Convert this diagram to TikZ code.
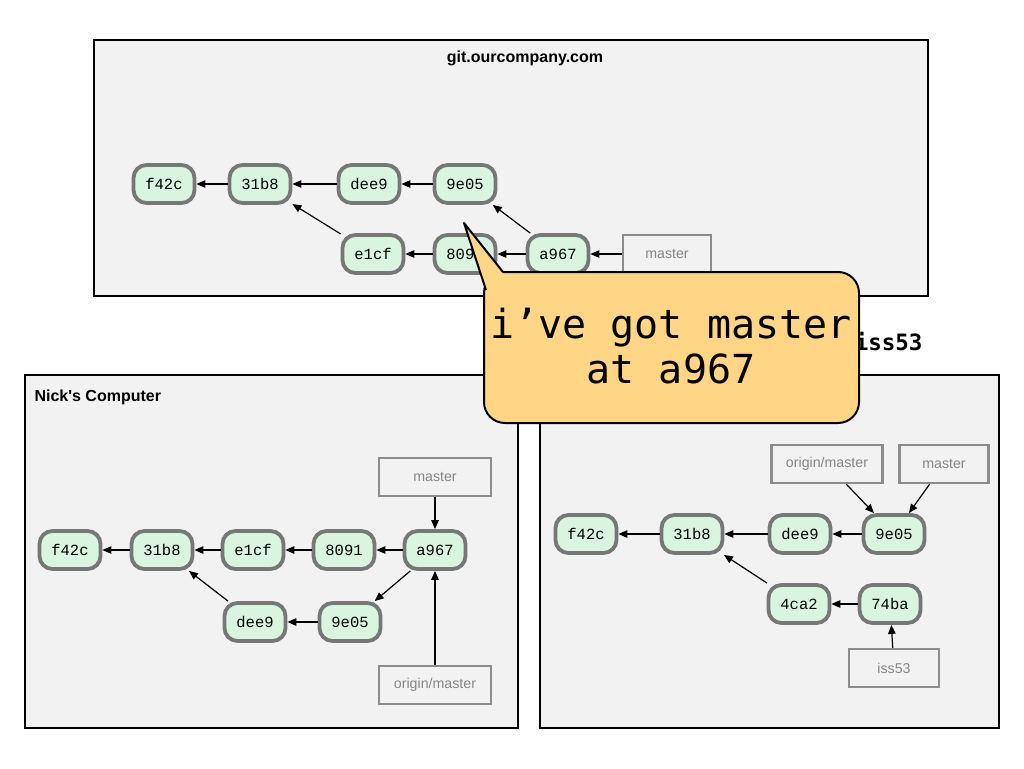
\documentclass[tikz,border=0pt]{standalone}
\usepackage{fontspec}
\setmainfont{Liberation Sans}
\newfontfamily\titlefont{Liberation Sans}
\newfontfamily\commitfont{Liberation Mono}
\newfontfamily\bubblefont{DejaVu Sans Mono}
\usetikzlibrary{arrows.meta}
\definecolor{bg}{HTML}{F2F2F2}
\definecolor{cfill}{HTML}{D9F5DF}
\definecolor{cborder}{HTML}{777777}
\definecolor{rborder}{HTML}{8C8C8C}
\definecolor{rtext}{HTML}{858585}
\definecolor{bubfill}{HTML}{FED685}
\tikzset{
  panel/.style={draw=black, line width=2.5pt, fill=bg},
  commit/.style={draw=cborder, line width=3.8pt, fill=cfill, rounded corners=13pt,
    minimum width=61pt, minimum height=38pt, inner sep=0pt,
    font=\commitfont\fontsize{15.5}{17}\selectfont},
  refbox/.style={draw=rborder, line width=2.5pt, fill=bg, minimum height=38pt, inner sep=0pt,
    text=rtext, font=\fontsize{14.2}{16}\selectfont},
  arr/.style={-{Triangle[length=9pt,width=7.5pt]}, line width=1.2pt, black},
  title/.style={font=\titlefont\bfseries\fontsize{16}{18}\selectfont},
}
\begin{document}
\begin{tikzpicture}[x=1pt,y=-1pt]
\useasboundingbox (0,0) rectangle (1024,768);
\fill[white] (0,0) rectangle (1024,768);

% panels
\draw[panel] (94,40) rectangle (928,296);
\draw[panel] (25,375) rectangle (518,728);
\draw[panel] (540,375) rectangle (999,728);

\node[title, anchor=base] (ttop) at (525,63) {git.ourcompany.com};
\node[title, anchor=base west] (tnick) at (31,401) {Nick's Computer};
\node[anchor=base east, font=\bubblefont\bfseries\fontsize{22.5}{24}\selectfont] (tiss) at (926,350) {iss53};

% top server
\node[commit] (a1) at (164,184) {f42c};
\node[commit] (a2) at (260,184) {31b8};
\node[commit] (a3) at (369,184) {dee9};
\node[commit] (a4) at (465,184) {9e05};
\node[commit] (a5) at (373,254) {e1cf};
\node[commit] (a6) at (465,254) {8091};
\node[commit] (a7) at (558,254) {a967};
\node[refbox, minimum width=88pt] (am) at (667,254) {master};
\draw[arr] (a2) -- (a1);
\draw[arr] (a3) -- (a2);
\draw[arr] (a4) -- (a3);
\draw[arr] (a5) -- (a2);
\draw[arr] (a6) -- (a5);
\draw[arr] (a7) -- (a6);
\draw[arr] (a7) -- (a4);
\draw[arr] (am) -- (a7);

% Nick's computer
\node[commit] (b1) at (70,550) {f42c};
\node[commit] (b2) at (162,550) {31b8};
\node[commit] (b3) at (253,550) {e1cf};
\node[commit] (b4) at (344,550) {8091};
\node[commit] (b5) at (435,550) {a967};
\node[commit] (b6) at (255,622) {dee9};
\node[commit] (b7) at (350,622) {9e05};
\node[refbox, minimum width=112pt] (bm) at (435,477) {master};
\node[refbox, minimum width=112pt] (bo) at (435,685) {origin/master};
\draw[arr] (b2) -- (b1);
\draw[arr] (b3) -- (b2);
\draw[arr] (b4) -- (b3);
\draw[arr] (b5) -- (b4);
\draw[arr] (b5) -- (b7);
\draw[arr] (b7) -- (b6);
\draw[arr] (b6) -- (b2);
\draw[arr] (bm) -- (b5);
\draw[arr] (bo) -- (b5);

% right computer
\node[commit] (c1) at (586,534) {f42c};
\node[commit] (c2) at (692,534) {31b8};
\node[commit] (c3) at (800,534) {dee9};
\node[commit] (c4) at (894,534) {9e05};
\node[commit] (c5) at (799,604) {4ca2};
\node[commit] (c6) at (890,604) {74ba};
\node[refbox, minimum width=111pt] (co) at (827,464) {origin/master};
\node[refbox, minimum width=89pt] (cm) at (944,464) {master};
\node[refbox, minimum width=90pt] (ci) at (894,668) {iss53};
\draw[arr] (c2) -- (c1);
\draw[arr] (c3) -- (c2);
\draw[arr] (c4) -- (c3);
\draw[arr] (c6) -- (c5);
\draw[arr] (c5) -- (c2);
\draw[arr] (co) -- (c4);
\draw[arr] (cm) -- (c4);
\draw[arr] (ci) -- (c6);

% speech bubble
\fill[bubfill] (503,272) -- (464,223) -- (486,290) -- (515,300) -- cycle;
\draw[fill=bubfill, line width=2pt, rounded corners=21pt] (484,272) rectangle (859,423);
\fill[bubfill] (503,273.5) -- (464,223) -- (485.5,290) -- (515,300) -- cycle;
\draw[line width=2pt, line join=round] (503,272) -- (464,223) -- (486,290);
\node[anchor=base, font=\bubblefont\fontsize{40}{44}\selectfont] (bub1) at (671,338) {i’ve got master};
\node[anchor=base, font=\bubblefont\fontsize{40}{44}\selectfont] (bub2) at (671,383) {at a967};
\end{tikzpicture}
\end{document}
